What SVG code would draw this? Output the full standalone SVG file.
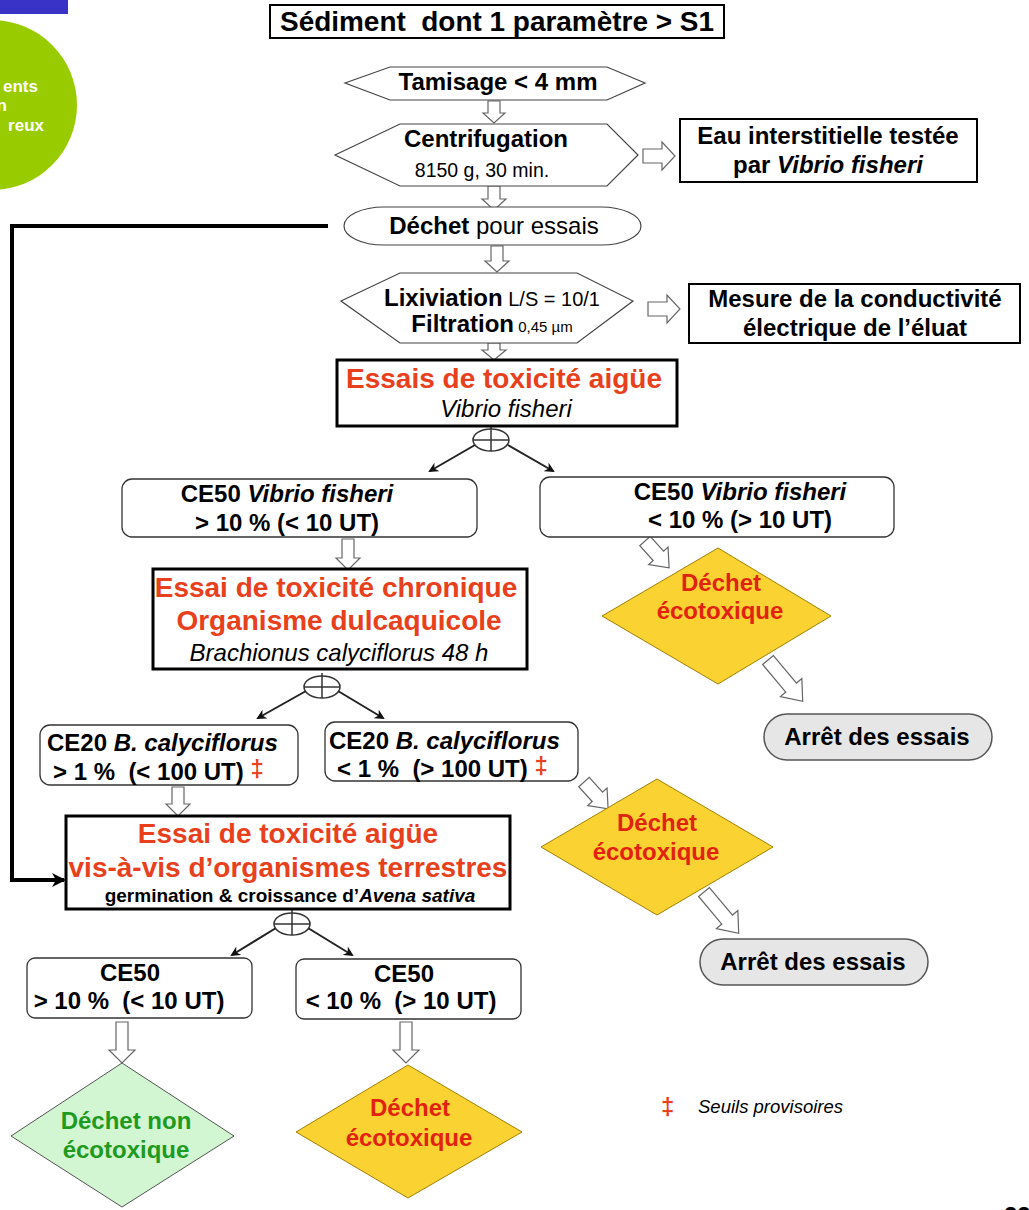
<svg xmlns="http://www.w3.org/2000/svg" xmlns:xlink="http://www.w3.org/1999/xlink" width="1029" height="1210" viewBox="0 0 1029 1210">
<style>
text{font-family:"Liberation Sans",Arial,sans-serif;fill:#000}
.b{font-weight:bold}
.t20{font-size:24px}
.t24{font-size:28px}
.red{fill:#E8401C;font-weight:bold}
.dred{fill:#E2220E;font-weight:bold;font-size:24px}
.box{fill:#fff;stroke:#000;stroke-width:2}
.box3{fill:#fff;stroke:#000;stroke-width:3}
.rbox{fill:#fff;stroke:#333;stroke-width:1.3}
.hex{fill:#fff;stroke:#444;stroke-width:1.2}
.barr{fill:#fff;stroke:#666;stroke-width:1.2}
.yel{fill:#FAD232;stroke:#A08000;stroke-width:1}
.grn{fill:#D2F5D2;stroke:#555;stroke-width:1}
.stop{fill:#E6E6E6;stroke:#555;stroke-width:1.5}
.ln{stroke:#222;stroke-width:2;fill:none}
.mid{text-anchor:middle}
</style>
<defs>
<marker id="ah" markerWidth="10" markerHeight="10" refX="8" refY="5" orient="auto" markerUnits="userSpaceOnUse"><path d="M0,0 L10,5 L0,10 L3,5 Z" fill="#111"/></marker>
<marker id="ahb" markerWidth="14" markerHeight="14" refX="12" refY="7" orient="auto" markerUnits="userSpaceOnUse"><path d="M0,0 L14,7 L0,14 L4,7 Z" fill="#000"/></marker>
<path id="dshort" d="M-7 0 H7 V20 H13 L0 36 L-13 20 H-7 Z"/>
<path id="dlong" d="M-7 0 H7 V36 H14 L0 54 L-14 36 H-7 Z"/>
<g id="branch"><ellipse cx="0" cy="0" rx="18" ry="11" fill="#fff" stroke="#333" stroke-width="1.5"/><line x1="-18" y1="0" x2="18" y2="0" stroke="#333" stroke-width="1.5"/><line x1="0" y1="-14" x2="0" y2="11" stroke="#333" stroke-width="1.5"/></g>
</defs>

<!-- decorative corner -->
<rect x="0" y="0" width="68" height="14" fill="#3A33C8"/>
<circle cx="-8" cy="105" r="85" fill="#99CC00"/>
<g font-weight="bold" font-size="17" text-anchor="end">
<text x="38" y="92" style="fill:#fff">ents</text>
<text x="7" y="111" style="fill:#fff">n</text>
<text x="44" y="131" style="fill:#fff">reux</text>
</g>

<!-- connectors -->
<g id="connectors">
<path d="M328 226 H12 V880 H64" stroke="#000" stroke-width="4" fill="none" marker-end="url(#ahb)"/>
<path class="barr" d="M488 101 H500 V113 H505 L494 123 L483 113 H488 Z"/>
<path class="barr" d="M488 186 H500 V199 H506 L494 210 L482 199 H488 Z"/>
<path class="barr" d="M491 246 H503 V261 H509 L497 272 L485 261 H491 Z"/>
<path class="barr" d="M488 343 H500 V350 H506 L494 360 L482 350 H488 Z"/>
<path class="barr" d="M643 149 H662 V142 L675 156 L662 170 V163 H643 Z"/>
<path class="barr" d="M648 302 H667 V295 L680 309 L667 323 V316 H648 Z"/>
<path class="barr" d="M342 539 H354 V558 H360 L348 570 L336 558 H342 Z"/>
<path class="barr" d="M172 787 H184 V804 H190 L178 816 L166 804 H172 Z"/>
<path class="barr" d="M116 1022 H128 V1050 H135 L122 1063 L109 1050 H116 Z"/>
<path class="barr" d="M400 1022 H412 V1050 H419 L406 1063 L393 1050 H400 Z"/>
<use href="#dshort" class="barr" transform="translate(645,541) rotate(-42)"/>
<use href="#dlong" class="barr" transform="translate(768,660) rotate(-40)"/>
<use href="#dshort" class="barr" transform="translate(584,782) rotate(-42)"/>
<use href="#dlong" class="barr" transform="translate(704,892) rotate(-40)"/>
<line class="ln" x1="475" y1="445" x2="430" y2="471" marker-end="url(#ah)"/>
<line class="ln" x1="508" y1="445" x2="553" y2="471" marker-end="url(#ah)"/>
<line class="ln" x1="306" y1="691" x2="258" y2="718" marker-end="url(#ah)"/>
<line class="ln" x1="338" y1="691" x2="383" y2="718" marker-end="url(#ah)"/>
<line class="ln" x1="276" y1="928" x2="232" y2="955" marker-end="url(#ah)"/>
<line class="ln" x1="308" y1="928" x2="352" y2="955" marker-end="url(#ah)"/>
<use href="#branch" transform="translate(491,440)"/>
<use href="#branch" transform="translate(322,687)"/>
<use href="#branch" transform="translate(292,924)"/>
</g>

<g id="n-sediment">
<rect class="box" x="270" y="5" width="454" height="33"/>
<text class="b mid" x="497" y="31" font-size="27" xml:space="preserve" textLength="434" lengthAdjust="spacingAndGlyphs">Sédiment  dont 1 paramètre &gt; S1</text>
</g>

<g id="n-tamisage">
<polygon class="hex" points="345,83 390,67 607,67 645,83 607,100 390,100"/>
<text class="b t20 mid" x="498" y="90">Tamisage &lt; 4 mm</text>
</g>

<g id="n-centri">
<polygon class="hex" points="335,155 400,124 607,124 638,155 607,186 400,186"/>
<text class="b t20 mid" x="486" y="147">Centrifugation</text>
<text class="mid" x="482" y="177" font-size="19.5">8150 g, 30 min.</text>
</g>

<g id="n-eau">
<rect class="box" x="680" y="119" width="297" height="63"/>
<text class="b t20 mid" x="828" y="144">Eau interstitielle testée</text>
<text class="b t20 mid" x="828" y="173">par <tspan font-style="italic">Vibrio fisheri</tspan></text>
</g>

<g id="n-dechet">
<rect class="hex" x="344" y="207" width="297" height="38" rx="40" ry="19"/>
<text class="t20 mid" x="494" y="234"><tspan font-weight="bold">Déchet</tspan> pour essais</text>
</g>

<g id="n-lixi">
<polygon class="hex" points="341,301 400,273 577,273 633,301 577,343 400,343"/>
<text class="mid" x="492" y="306"><tspan class="b t20">Lixiviation</tspan><tspan font-size="20"> L/S = 10/1</tspan></text>
<text class="mid" x="492" y="332"><tspan class="b t20">Filtration</tspan><tspan font-size="15"> 0,45 µm</tspan></text>
</g>

<g id="n-mesure">
<rect class="box" x="689" y="284" width="331" height="59"/>
<text class="b t20 mid" x="855" y="307">Mesure de la conductivité</text>
<text class="b t20 mid" x="855" y="336">électrique de l’éluat</text>
</g>

<g id="n-essais">
<rect class="box3" x="337" y="360" width="340" height="66"/>
<text class="red t24 mid" x="504" y="388">Essais de toxicité aigüe</text>
<text class="t20 mid" x="506" y="417" font-style="italic">Vibrio fisheri</text>
</g>

<g id="n-ce50a">
<rect class="rbox" x="122" y="479" width="355" height="58" rx="10"/>
<text class="b t20 mid" x="287" y="502">CE50 <tspan font-style="italic">Vibrio fisheri</tspan></text>
<text class="b t20 mid" x="287" y="531">&gt; 10 % (&lt; 10 UT)</text>
</g>

<g id="n-ce50b">
<rect class="rbox" x="540" y="477" width="354" height="60" rx="10"/>
<text class="b t20 mid" x="740" y="500">CE50 <tspan font-style="italic">Vibrio fisheri</tspan></text>
<text class="b t20 mid" x="740" y="528">&lt; 10 % (&gt; 10 UT)</text>
</g>

<g id="n-eco1">
<polygon class="yel" points="718,548 831,616 718,684 602,616"/>
<text class="dred mid" x="721" y="591">Déchet</text>
<text class="dred mid" x="720" y="619">écotoxique</text>
</g>

<g id="n-arret1">
<rect class="stop" x="764" y="714" width="228" height="46" rx="23"/>
<text class="b t20 mid" x="877" y="745">Arrêt des essais</text>
</g>

<g id="n-chronique">
<rect class="box3" x="153" y="569" width="374" height="100"/>
<text class="red t24 mid" x="336" y="597">Essai de toxicité chronique</text>
<text class="red t24 mid" x="339" y="630">Organisme dulcaquicole</text>
<text class="t20 mid" x="339" y="661" font-style="italic">Brachionus calyciflorus 48 h</text>
</g>

<g id="n-ce20a">
<rect class="rbox" x="40" y="725" width="258" height="60" rx="10"/>
<text class="b t20" x="47" y="751">CE20 <tspan font-style="italic">B. calyciflorus</tspan></text>
<text class="b t20" x="53" y="780" xml:space="preserve">&gt; 1 %  (&lt; 100 UT) <tspan style="fill:#E8401C" dy="-3">‡</tspan></text>
</g>

<g id="n-ce20b">
<rect class="rbox" x="325" y="722" width="253" height="59" rx="10"/>
<text class="b t20" x="329" y="749">CE20 <tspan font-style="italic">B. calyciflorus</tspan></text>
<text class="b t20" x="337" y="777" xml:space="preserve">&lt; 1 %  (&gt; 100 UT) <tspan style="fill:#E8401C" dy="-3">‡</tspan></text>
</g>

<g id="n-eco2">
<polygon class="yel" points="657,779 773,847 657,915 541,847"/>
<text class="dred mid" x="657" y="831">Déchet</text>
<text class="dred mid" x="656" y="860">écotoxique</text>
</g>

<g id="n-arret2">
<rect class="stop" x="700" y="939" width="228" height="46" rx="23"/>
<text class="b t20 mid" x="813" y="970">Arrêt des essais</text>
</g>

<g id="n-terrestre">
<rect class="box3" x="66" y="816" width="444" height="93"/>
<text class="red t24 mid" x="288" y="843">Essai de toxicité aigüe</text>
<text class="red t24 mid" x="288" y="877">vis-à-vis d’organismes terrestres</text>
<text class="b mid" x="290" y="902" font-size="19">germination &amp; croissance d’<tspan font-style="italic">Avena sativa</tspan></text>
</g>

<g id="n-ce50c">
<rect class="rbox" x="27" y="958" width="225" height="60" rx="8"/>
<text class="b t20 mid" x="130" y="981">CE50</text>
<text class="b t20 mid" x="129" y="1009" xml:space="preserve">&gt; 10 %  (&lt; 10 UT)</text>
</g>

<g id="n-ce50d">
<rect class="rbox" x="296" y="959" width="225" height="60" rx="8"/>
<text class="b t20 mid" x="404" y="982">CE50</text>
<text class="b t20 mid" x="401" y="1009" xml:space="preserve">&lt; 10 %  (&gt; 10 UT)</text>
</g>

<g id="n-nonecotox">
<polygon class="grn" points="122,1063 234,1136 122,1207 11,1136"/>
<text class="mid t20 b" x="126" y="1129" style="fill:#1E9A1E">Déchet non</text>
<text class="mid t20 b" x="126" y="1158" style="fill:#1E9A1E">écotoxique</text>
</g>

<g id="n-eco3">
<polygon class="yel" points="408,1065 522,1132 408,1198 296,1132"/>
<text class="dred mid" x="410" y="1116">Déchet</text>
<text class="dred mid" x="409" y="1146">écotoxique</text>
</g>

<g id="legend">
<text x="661" y="1115" font-size="24" font-weight="bold" style="fill:#E8401C">‡</text>
<text x="698" y="1113" font-size="18.5" font-style="italic" font-family="'Open Sans','Liberation Sans',sans-serif">Seuils provisoires</text>
</g>
<text x="1004" y="1224" font-size="24" font-weight="bold">22</text>
</svg>
